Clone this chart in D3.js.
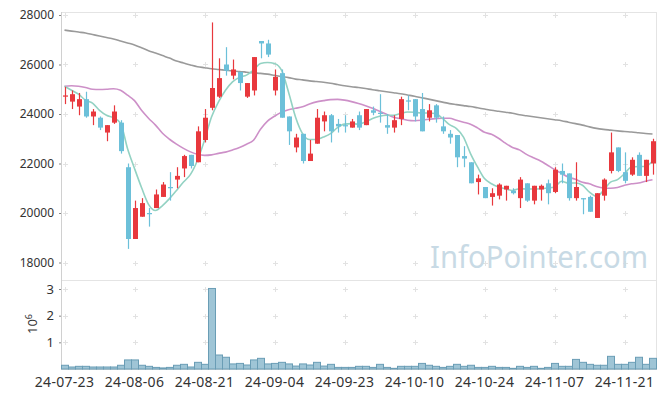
<!DOCTYPE html>
<html lang="ko">
<head>
  <meta charset="UTF-8">
  <title>Daily candles with moving averages and volume</title>
  <script src="https://d3js.org/d3.v7.min.js"></script>
  <style>
    body { margin: 0; background: #fff; }
    svg text { font-family: "Noto Sans", sans-serif; fill: #333; }
    .watermark { fill: #c8dae5 !important; }
  </style>
</head>
<body>
<svg id="chart" width="665" height="398"></svg>

<script>
    // ——— data ———
    const dates = [
      "24-07-23","24-07-24","24-07-25","24-07-26","24-07-29","24-07-30","24-07-31","24-08-01","24-08-02","24-08-05",
      "24-08-06","24-08-07","24-08-08","24-08-09","24-08-12","24-08-13","24-08-14","24-08-16","24-08-19","24-08-20",
      "24-08-21","24-08-22","24-08-23","24-08-26","24-08-27","24-08-28","24-08-29","24-08-30","24-09-02","24-09-03",
      "24-09-04","24-09-05","24-09-06","24-09-09","24-09-10","24-09-11","24-09-12","24-09-13","24-09-19","24-09-20",
      "24-09-23","24-09-24","24-09-25","24-09-26","24-09-27","24-09-30","24-10-02","24-10-04","24-10-07","24-10-08",
      "24-10-10","24-10-11","24-10-14","24-10-15","24-10-16","24-10-17","24-10-18","24-10-21","24-10-22","24-10-23",
      "24-10-24","24-10-25","24-10-28","24-10-29","24-10-30","24-10-31","24-11-01","24-11-04","24-11-05","24-11-06",
      "24-11-07","24-11-08","24-11-11","24-11-12","24-11-13","24-11-14","24-11-15","24-11-18","24-11-19","24-11-20",
      "24-11-21","24-11-22","24-11-25","24-11-26","24-11-27"
    ];

    const open = [
      24700,24500,24300,24600,23900,23850,23250,23650,23650,21850,
      18950,19850,20000,20200,20650,21050,21350,21800,22350,22050,
      22950,24250,24700,26000,25550,25700,24700,24950,26950,26850,
      24950,25650,23900,22650,23200,22100,22800,23700,23950,23600,
      23550,23450,23950,23550,24150,24050,23550,23450,23800,24550,
      24600,24200,23850,24350,23500,23200,23150,22300,22050,21250,
      21050,20650,20700,20950,20900,20600,21200,20500,20950,21200,
      20850,21700,21600,20600,20600,20650,19800,20700,21700,22650,
      21650,21550,22350,21500,22000
    ];
    const high = [
      25100,24950,24850,24900,24200,23900,23550,24350,23750,22000,
      20500,20600,20200,20950,21250,21650,21850,22350,22350,23500,
      24200,27700,26250,26700,26200,25700,25250,26300,26950,27000,
      25800,25800,23900,23200,23200,22950,24200,24100,24000,23800,
      23950,23800,24100,24200,24300,24800,24000,23950,24700,24750,
      24600,24850,24400,24400,23900,23350,23150,22700,22050,21550,
      21050,21000,21200,21100,21000,21450,21200,21100,21150,21350,
      21850,22000,21600,22050,20600,20700,20800,21400,23250,22650,
      22450,22250,22450,22150,23000
    ];
    const low = [
      24400,24200,23950,23850,23550,23350,22900,23600,22400,18550,
      18950,19850,19450,20200,20650,20500,21000,21450,21800,22050,
      22850,24150,24650,25550,25400,24950,24650,24750,26250,26300,
      24750,23850,22750,22450,22000,22100,22800,23300,22850,23250,
      23250,23450,23350,23550,23950,23650,23200,23250,23550,24150,
      23700,23300,23700,23650,23200,22800,21850,21850,21200,20750,
      20600,20300,20550,20500,20750,20200,20450,20350,20500,20350,
      20800,21200,20500,20500,19950,20050,19800,20500,21600,21650,
      21200,21500,21500,21250,21550
    ];
    const close = [
      24750,24800,24600,23900,24100,23450,23550,24100,22500,18950,
      20200,20400,19950,20750,21150,21000,21500,22300,21900,23300,
      23850,25050,25450,25750,25800,25250,25250,26300,26850,26400,
      25500,23850,23300,23050,22100,22400,23850,23950,23300,23500,
      23500,23700,23450,24200,24050,24000,23450,23750,24600,24500,
      23900,23300,24150,23850,23300,23050,22250,22200,21200,21400,
      20600,20800,21150,21100,20800,21350,20500,21100,21100,20800,
      21750,21550,20600,21050,20550,20050,20800,21350,22450,21700,
      21300,22150,21500,22150,22900
    ];

    // short moving average (teal)
    const maShort = [
      25120,24960,24800,24560,24440,24150,23950,23850,23630,22610,
      21800,21030,20350,20100,20300,20580,20910,21250,21560,22130,
      22940,23880,24490,24960,25300,25480,25570,25770,26040,26080,
      26040,25770,24890,23880,23210,22970,22970,23070,23210,23450,
      23590,23610,23590,23680,23820,23910,23950,23950,24020,24080,
      24070,24040,24040,24020,23820,23570,23410,23070,22400,21860,
      21390,21180,21050,20980,20910,20980,20970,20970,20980,21010,
      21050,21280,21210,21210,21120,20840,20670,20910,21250,21350,
      21590,21860,21880,21880,22100
    ];
    // medium moving average (pink)
    const maMid = [
      25120,25140,25120,25070,25000,24990,25000,25020,24960,24760,
      24540,24150,23830,23550,23220,22980,22780,22610,22470,22370,
      22330,22350,22410,22460,22550,22650,22780,22940,23380,23710,
      23910,24070,24170,24230,24290,24400,24490,24540,24580,24590,
      24560,24500,24420,24330,24230,24110,23990,23870,23810,23750,
      23730,23750,23790,23810,23830,23830,23750,23670,23590,23440,
      23260,23180,23020,22820,22650,22550,22370,22230,22100,21930,
      21760,21600,21450,21360,21240,21180,21070,21010,21000,21030,
      21120,21180,21210,21280,21340
    ];
    // long moving average (gray)
    const maLong = [
      27390,27350,27310,27270,27210,27150,27090,27030,26950,26870,
      26790,26680,26560,26460,26360,26260,26140,26060,25980,25910,
      25870,25830,25800,25770,25740,25720,25690,25660,25640,25610,
      25560,25510,25470,25410,25380,25340,25310,25280,25240,25190,
      25140,25100,25070,25030,24980,24940,24900,24860,24820,24770,
      24720,24660,24600,24540,24480,24420,24380,24340,24300,24250,
      24200,24150,24110,24070,24030,23970,23930,23890,23850,23810,
      23770,23730,23670,23610,23550,23480,23420,23380,23350,23320,
      23290,23270,23240,23210,23190
    ];

    const volume = [
      140000,75000,100000,100000,75000,75000,75000,75000,140000,340000,
      340000,140000,100000,60000,40000,60000,140000,175000,75000,250000,
      175000,3020000,525000,440000,190000,210000,150000,340000,400000,190000,
      210000,250000,190000,110000,190000,150000,250000,110000,175000,60000,
      60000,60000,100000,100000,60000,175000,60000,25000,100000,100000,
      100000,210000,140000,100000,60000,100000,175000,100000,140000,60000,
      60000,100000,60000,60000,25000,100000,60000,100000,25000,60000,
      210000,100000,100000,360000,250000,175000,140000,140000,475000,175000,
      175000,250000,440000,175000,400000
    ];

    const priceTicks = [18000, 20000, 22000, 24000, 26000, 28000];
    const volTicks = [1, 2, 3];           // in millions
    const dateTickEvery = 10;

    // ——— layout ———
    const svg = d3.select("#chart");
    const left = 61, right = 656;
    const priceTop = 12;
    const volTop = 280, volBottom = 369;

    const UP = "#e8383d", DOWN = "#6cc0d9";
    const TEAL = "#93d2c3", PINK = "#cd90c8", GRAY = "#9a9a9a";

    const data = dates.map((d, i) => ({
      i, date: d, open: open[i], high: high[i], low: low[i], close: close[i],
      vol: volume[i], maShort: maShort[i], maMid: maMid[i], maLong: maLong[i]
    }));

    const x = d3.scaleBand().domain(d3.range(data.length)).range([left, right]).padding(0);
    const cx = i => x(i) + x.bandwidth() / 2;

    const y = d3.scaleLinear().domain([18000, 28000]).range([262.5, 15]);
    const yv = d3.scaleLinear().domain([0, 3]).range([volBottom, 289]);

    // frames
    const frame = svg.append("g");
    frame.append("rect")
      .attr("x", left + 0.5).attr("y", priceTop + 0.5)
      .attr("width", right - left).attr("height", volBottom - priceTop)
      .attr("fill", "none").attr("stroke", "#e4e4e4");
    frame.append("line")
      .attr("x1", left).attr("x2", right + 1)
      .attr("y1", volTop + 0.5).attr("y2", volTop + 0.5)
      .attr("stroke", "#e4e4e4");
    frame.append("line")
      .attr("x1", left + 0.5).attr("x2", left + 0.5)
      .attr("y1", priceTop).attr("y2", volBottom)
      .attr("stroke", "#d0d0d0");
    frame.append("line")
      .attr("x1", left).attr("x2", right + 1)
      .attr("y1", volBottom + 0.5).attr("y2", volBottom + 0.5)
      .attr("stroke", "#d8d8d8");

    // grid crosses
    const tickIdx = d3.range(0, data.length, dateTickEvery);
    const crossPts = [];
    tickIdx.forEach(i => {
      priceTicks.forEach(p => crossPts.push([cx(i), y(p)]));
      volTicks.forEach(v => crossPts.push([cx(i), yv(v)]));
    });
    svg.append("g").selectAll("path")
      .data(crossPts)
      .join("path")
      .attr("d", d => `M${Math.round(d[0]) - 2},${Math.round(d[1]) + 0.5}h5M${Math.round(d[0]) + 0.5},${Math.round(d[1]) - 2}v5`)
      .attr("stroke", "#e2e2e2")
      .attr("stroke-width", 1);

    // watermark
    svg.append("text")
      .attr("class", "watermark")
      .attr("x", 430).attr("y", 268)
      .attr("font-size", 30)
      .attr("textLength", 218)
      .attr("lengthAdjust", "spacingAndGlyphs")
      .text("InfoPointer.com");

    // y axes
    const yAxis = svg.append("g")
      .attr("transform", `translate(${left},0)`)
      .call(d3.axisLeft(y).tickValues(priceTicks).tickSize(2).tickPadding(5).tickFormat(d3.format("d")));
    yAxis.select(".domain").remove();
    yAxis.selectAll("line").attr("stroke", "#888");
    yAxis.selectAll("text").attr("font-size", 12).attr("fill", "#333");

    const vAxis = svg.append("g")
      .attr("transform", `translate(${left},0)`)
      .call(d3.axisLeft(yv).tickValues(volTicks).tickSize(2).tickPadding(5).tickFormat(d3.format("d")));
    vAxis.select(".domain").remove();
    vAxis.selectAll("line").attr("stroke", "#888");
    vAxis.selectAll("text").attr("font-size", 13).attr("fill", "#333");

    const expLabel = svg.append("text")
      .attr("transform", "translate(37,334) rotate(-90)")
      .attr("font-size", 13);
    expLabel.append("tspan").text("10");
    expLabel.append("tspan").attr("dy", -5).attr("font-size", 9).text("6");

    // x axis labels
    const xAxis = svg.append("g")
      .attr("transform", `translate(0,${volBottom})`)
      .call(d3.axisBottom(x).tickValues(tickIdx).tickSize(0).tickPadding(8).tickFormat(i => dates[i]));
    xAxis.select(".domain").remove();
    xAxis.selectAll("text")
      .attr("font-size", 14)
      .attr("letter-spacing", 0.3)
      .attr("fill", "#333");

    // volume bars
    svg.append("g").selectAll("rect")
      .data(data)
      .join("rect")
      .attr("x", d => x(d.i) + 0.5)
      .attr("y", d => yv(d.vol / 1e6))
      .attr("width", x.bandwidth())
      .attr("height", d => volBottom - yv(d.vol / 1e6))
      .attr("fill", "#9fc5d6")
      .attr("stroke", "#6a9db5")
      .attr("stroke-width", 1);

    // moving averages
    const maLine = key => d3.line()
      .x(d => cx(d.i))
      .y(d => y(d[key]))
      .curve(d3.curveMonotoneX);

    [["maLong", GRAY], ["maMid", PINK], ["maShort", TEAL]].forEach(([key, col]) => {
      svg.append("path")
        .datum(data)
        .attr("fill", "none")
        .attr("stroke", col)
        .attr("stroke-width", 1.6)
        .attr("d", maLine(key));
    });

    // candles
    const candle = svg.append("g").selectAll("g")
      .data(data)
      .join("g");
    candle.append("line")
      .attr("x1", d => Math.round(cx(d.i)) + 0.5)
      .attr("x2", d => Math.round(cx(d.i)) + 0.5)
      .attr("y1", d => y(d.high))
      .attr("y2", d => y(d.low))
      .attr("stroke", d => d.close >= d.open ? UP : DOWN)
      .attr("stroke-width", 1.2);
    candle.append("rect")
      .attr("x", d => Math.round(cx(d.i)) - 2)
      .attr("y", d => y(Math.max(d.open, d.close)))
      .attr("width", 5)
      .attr("height", d => Math.max(1.2, Math.abs(y(d.open) - y(d.close))))
      .attr("fill", d => d.close >= d.open ? UP : DOWN);
</script>
</body>
</html>
